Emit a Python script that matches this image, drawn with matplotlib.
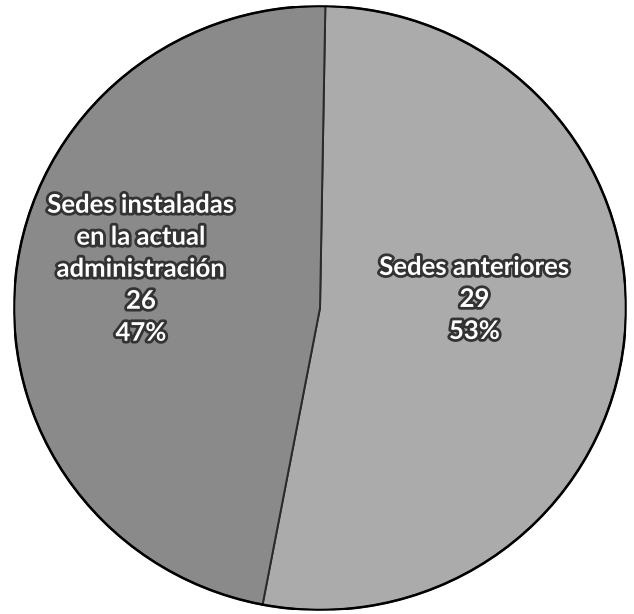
import matplotlib
matplotlib.use('Agg')
import matplotlib.pyplot as plt
import matplotlib.patheffects as pe

# datos del gráfico
etiquetas = ['Sedes anteriores', 'Sedes instaladas\nen la actual\nadministración']
valores = [29, 26]
porcentajes = ['53%', '47%']
colores = ['#ababab', '#8a8a8a']

fig = plt.figure(figsize=(6.34, 6.14), dpi=100)
ax = fig.add_axes([14/634, 4/614, 612/634, 604/614])

wedges, _ = ax.pie(valores, colors=colores, startangle=89, counterclock=False,
                   radius=1, wedgeprops=dict(edgecolor='#2a2a2a', linewidth=1.4))
ax.set_aspect('auto')
ax.set_xlim(-1.0, 1.0)
ax.set_ylim(-1.0, 1.0)
ax.axis('off')

# borde exterior
circulo = plt.Circle((0, 0), 1, fill=False, edgecolor='black', linewidth=1.8)
ax.add_patch(circulo)

efecto = [pe.withStroke(linewidth=4, foreground='#333333')]
posiciones = [(0.505, 0.03), (-0.585, 0.13)]
for etq, val, pct, (x, y) in zip(etiquetas, valores, porcentajes, posiciones):
    ax.text(x, y, f'{etq}\n{val}\n{pct}', ha='center', va='center', color='white',
            fontsize=18.5, fontweight='bold', family='Lato', linespacing=1.4,
            path_effects=efecto)

fig.savefig('out.png', dpi=100, facecolor='white')
